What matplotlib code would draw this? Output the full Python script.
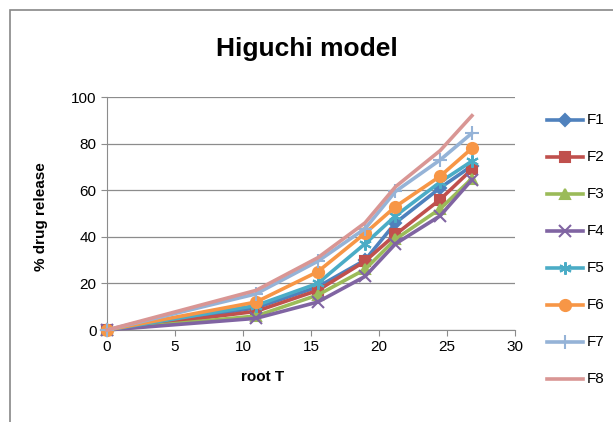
import matplotlib.pyplot as plt
import numpy as np
from matplotlib.patches import Rectangle
from matplotlib.lines import Line2D

# root of sampling time (min)
root_t = [0, 10.95, 15.49, 18.97, 21.21, 24.49, 26.83]

F1 = [0, 9.5, 18.5, 30, 46, 61, 70.5]
F2 = [0, 8, 17, 29.5, 41, 56, 69]
F3 = [0, 6, 15, 26, 39, 52, 65]
F4 = [0, 5, 12, 23, 37, 49, 64.5]
F5 = [0, 10.5, 20, 37, 49, 63.5, 72.5]
F6 = [0, 12, 25, 41.5, 53, 66, 78]
F7 = [0, 15.5, 29.5, 43.5, 59.5, 73, 84.5]
F8 = [0, 17, 31, 46, 61.5, 77, 92]

names = ['F1', 'F2', 'F3', 'F4', 'F5', 'F6', 'F7', 'F8']
series = [F1, F2, F3, F4, F5, F6, F7, F8]
colors = ['#4F81BD', '#C0504D', '#9BBB59', '#8064A2', '#4BACC6', '#F79646', '#95B3D7', '#D99694']
asterisk = (6, 2, 0)
markers = ['D', 's', '^', 'x', asterisk, 'o', '+', None]
msizes = [6, 7, 7, 8, 9, 8, 10, 0]

plt.rcParams['font.family'] = ['Liberation Sans', 'DejaVu Sans']

fig = plt.figure(figsize=(6.13, 4.22), dpi=100)
ax = fig.add_axes([0.1746, 0.218, 0.6656, 0.552])

for s, c, m, ms in zip(series, colors, markers, msizes):
    ax.plot(root_t, s, color=c, lw=2.6, marker=m, ms=ms, mew=1.5,
            mfc=c, mec=c, clip_on=False, zorder=3)

ax.set_xlim(0, 30)
ax.set_ylim(0, 100)
ax.set_xticks(range(0, 31, 5))
ax.set_yticks(range(0, 101, 20))
ax.grid(axis='y', color='#8C8C8C', lw=0.9)
ax.set_axisbelow(True)
for sp in ['top', 'right']:
    ax.spines[sp].set_visible(False)
for sp in ['left', 'bottom']:
    ax.spines[sp].set_color('#8C8C8C')
ax.tick_params(colors='#8C8C8C', labelcolor='black', labelsize=11, length=4)

ax.set_xlabel('root T', fontsize=11, fontweight='bold')
ax.xaxis.set_label_coords(0.38, -0.17)
ax.set_ylabel('% drug release', fontsize=11, fontweight='bold')
ax.yaxis.set_label_coords(-0.145, 0.485)

fig.text(0.5, 0.885, 'Higuchi model', ha='center', va='center',
         fontsize=19, fontweight='bold')

# legend drawn manually in figure pixels
W, H = 613, 422
for i, (n, c, m, ms) in enumerate(zip(names, colors, markers, msizes)):
    yy = (H - (120 + 37 * i)) / H
    fig.add_artist(Line2D([547 / W, 583 / W], [yy, yy], color=c, lw=2.6,
                          transform=fig.transFigure))
    if m is not None:
        fig.add_artist(Line2D([565 / W], [yy], color=c, marker=m, ms=ms, mew=1.5,
                              mfc=c, mec=c, transform=fig.transFigure))
    fig.text(587 / W, yy, n, fontsize=11, va='center', ha='left')

# outer chart border
fig.add_artist(Rectangle((10 / W, -0.1), 1.1, (H - 10) / H + 0.1, fill=False,
                         edgecolor='#888888', lw=1.2, transform=fig.transFigure))

fig.savefig('out.png', dpi=100)
